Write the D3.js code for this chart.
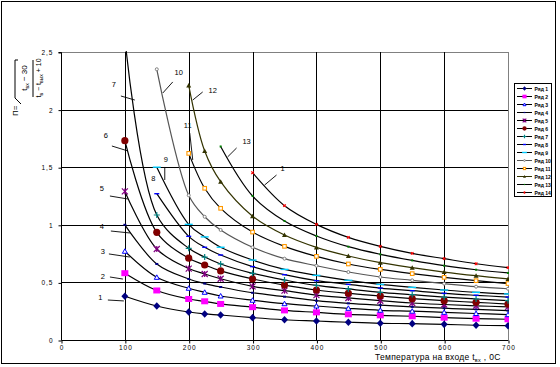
<!DOCTYPE html>
<html><head><meta charset="utf-8">
<script src="https://cdn.jsdelivr.net/npm/d3@7"></script>
<style>
body{margin:0;background:#fff}
svg{display:block}
text{font-family:"Liberation Sans",Arial,sans-serif;fill:#000}
</style>
</head><body>
<svg id="c" width="560" height="367"></svg>
<script>
// ---- data ----
const xValues = [100,150,200,225,250,300,350,400,450,500,550,600,650,700];
const series1  = [0.38,0.295,0.243,0.226,0.217,0.194,0.176,0.165,0.154,0.145,0.142,0.136,0.128,0.124];
const series2  = [0.58,0.43,0.356,0.336,0.313,0.285,0.257,0.24,0.223,0.214,0.206,0.194,0.185,0.18];
const series3  = [0.77,0.544,0.449,0.414,0.382,0.345,0.315,0.295,0.275,0.258,0.25,0.24,0.23,0.22];
const series4  = [1.0,0.66,0.53,0.49,0.46,0.41,0.376,0.341,0.318,0.302,0.288,0.276,0.265,0.255];
const series5  = [1.29,0.79,0.62,0.573,0.532,0.466,0.428,0.39,0.365,0.341,0.321,0.308,0.297,0.288];
const series6  = [1.73,0.935,0.71,0.651,0.60,0.53,0.477,0.434,0.405,0.382,0.359,0.341,0.327,0.312];
const series7  = [2.62,1.085,0.796,0.72,0.66,0.579,0.521,0.474,0.443,0.414,0.394,0.373,0.356,0.341];
const series8  = [null,1.27,0.9,0.805,0.738,0.637,0.567,0.515,0.483,0.451,0.428,0.405,0.388,0.373];
const series9  = [null,1.5,1.004,0.895,0.805,0.694,0.613,0.561,0.518,0.483,0.457,0.434,0.414,0.40];
const series10 = [null,2.35,1.256,1.07,0.955,0.805,0.706,0.645,0.59,0.547,0.518,0.489,0.463,0.445];
const series11 = [null,null,1.62,1.317,1.143,0.937,0.813,0.726,0.66,0.613,0.576,0.544,0.515,0.49];
const series12 = [null,null,2.21,1.64,1.374,1.075,0.911,0.804,0.729,0.671,0.628,0.59,0.558,0.53];
const series13 = [null,null,null,null,1.68,1.25,1.033,0.903,0.81,0.744,0.691,0.645,0.61,0.582];
const series14 = [null,null,null,null,null,1.452,1.166,1.004,0.891,0.813,0.752,0.706,0.662,0.628];
const seriesNames = ["Ряд 1","Ряд 2","Ряд 3","Ряд 4","Ряд 5","Ряд 6","Ряд 7","Ряд 8","Ряд 9","Ряд 10","Ряд 11","Ряд 12","Ряд 13","Ряд 14"];
const xTicks = [0,100,200,300,400,500,600,700];
const xTickLabels = ["0","100","200","300","400","500","600","700"];
const yTicks = [0,0.5,1,1.5,2,2.5];
const yTickLabels = ["0","0,5","1","1,5","2","2,5"];
// curve labels: text, label position (data units), leader line (data units)
const curveLabelText = ["1","2","3","4","5","6","7","8","9","10","11","12","13","1"];
const curveLabelPos = [[61.7,0.373],[65.6,0.547],[65.6,0.764],[64.1,0.981],[64.1,1.311],[70.3,1.771],[82.8,2.214],[144.5,1.406],[164.1,1.563],[184.4,2.326],[198.4,1.858],[237.5,2.170],[290.6,1.719],[346.9,1.493]];
const curveLeaders = [[73.4,0.347,98.4,0.339],[76.6,0.547,96.9,0.529],[75,0.747,107.8,0.72],[78.1,0.946,107.8,0.929],[76.6,1.25,104.7,1.224],[79.7,1.684,104.7,1.641],[93.8,2.118,115.6,2.083],null,[162.5,1.502,162.5,1.389],[175,2.24,159.4,2.144],[201.6,1.797,206.3,1.563],[221.9,2.153,206.3,2.083],[275,1.667,260.9,1.589],[337.5,1.432,318.8,1.345]];

const allSeries = [series1,series2,series3,series4,series5,series6,series7,series8,series9,series10,series11,series12,series13,series14];

// ---- styles ----
const styles = [
  {line:"#000", color:"#000080", m:"diamond"},
  {line:"#000", color:"#FF00FF", m:"square"},
  {line:"#000", color:"#0000FF", m:"triOpen"},
  {line:"#000", color:"#000080", m:"smallDash"},
  {line:"#000", color:"#800080", m:"star"},
  {line:"#000", color:"#800000", m:"circle"},
  {line:"#000", color:"#008080", m:"plus"},
  {line:"#000", color:"#0000FF", m:"dash"},
  {line:"#000", color:"#00CCFF", m:"longDash"},
  {line:"#555", color:"#808080", m:"circleOpen"},
  {line:"#000", color:"#FF9900", m:"squareOpen"},
  {line:"#333300", color:"#333300", m:"tri"},
  {line:"#000", color:"#008000", m:"smallSquare"},
  {line:"#000", color:"#FF0000", m:"smallX"}
];

const svg = d3.select("#c");
const L = 61, R = 508, T = 52, B = 340;
const x = d3.scaleLinear().domain([0,700]).range([L,R]);
const y = d3.scaleLinear().domain([0,2.5]).range([B,T]);

// outer border
svg.append("rect").attr("x",1.5).attr("y",1.5).attr("width",554).attr("height",362)
  .attr("fill","#fff").attr("stroke","#000").attr("stroke-width",1);

// gridlines
const g = svg.append("g");
yTicks.forEach(v=>{
  if(v===0) return;
  g.append("line").attr("x1",L).attr("x2",R).attr("y1",Math.round(y(v))+0.5).attr("y2",Math.round(y(v))+0.5)
   .attr("stroke", v===2.5 ? "#808080" : "#000").attr("stroke-width",1);
});
xTicks.forEach(v=>{
  if(v===0) return;
  g.append("line").attr("y1",T).attr("y2",B).attr("x1",Math.round(x(v))+0.5).attr("x2",Math.round(x(v))+0.5)
   .attr("stroke", v===700 ? "#808080" : "#000").attr("stroke-width",1);
});

// axes
const yAxis = d3.axisLeft(y).tickValues(yTicks).tickSize(3).tickPadding(5)
  .tickFormat((d,i)=>yTickLabels[i]);
const xAxis = d3.axisBottom(x).tickValues(xTicks).tickSize(3).tickPadding(2)
  .tickFormat((d,i)=>xTickLabels[i]);
const ya = svg.append("g").attr("transform",`translate(${L+0.5},0.5)`).call(yAxis);
const xa = svg.append("g").attr("transform",`translate(0.5,${B+0.5})`).call(xAxis);
[ya,xa].forEach(a=>{
  a.select(".domain").attr("stroke","#000");
  a.selectAll(".tick line").attr("stroke","#000");
  a.selectAll(".tick text").attr("font-size","6.5px").attr("letter-spacing","1px")
    .attr("font-family","'DejaVu Sans',sans-serif").attr("fill","#000");
});
ya.select(".domain").attr("d",`M-3,${T}H0V${B}`);
xa.select(".domain").attr("d",`M${L},0H${R}`);

// clip
svg.append("clipPath").attr("id","pc").append("rect").attr("x",L).attr("y",T-1).attr("width",R-L+1).attr("height",B-T+1);

const plot = svg.append("g").attr("clip-path","url(#pc)");

const lineGen = d3.line().defined(d=>d[1]!=null).x(d=>x(d[0])).y(d=>y(d[1])).curve(d3.curveCatmullRom.alpha(0.5));

function drawMarker(sel, type, color, s){
  s = s || 1;
  switch(type){
    case "diamond": sel.append("path").attr("d",`M0,${-3.8*s}L${3.5*s},0L0,${3.8*s}L${-3.5*s},0Z`).attr("fill",color); break;
    case "square": sel.append("rect").attr("x",-3.5*s).attr("y",-3*s).attr("width",7*s).attr("height",6*s).attr("fill",color); break;
    case "triOpen": sel.append("path").attr("d",`M0,${-2.5*s}L${2.5*s},${2*s}L${-2.5*s},${2*s}Z`).attr("fill","#fff").attr("stroke",color).attr("stroke-width",1); break;
    case "smallDash": sel.append("rect").attr("x",-1.5*s).attr("y",-1*s).attr("width",3*s).attr("height",2*s).attr("fill",color); break;
    case "star": sel.append("path").attr("d",`M${-3*s},${-3*s}L${3*s},${3*s}M${3*s},${-3*s}L${-3*s},${3*s}M0,${-3*s}L0,${3*s}`).attr("stroke",color).attr("stroke-width",1.2); break;
    case "circle": sel.append("circle").attr("r",3.6*s).attr("fill",color); break;
    case "plus": sel.append("path").attr("d",`M${-3*s},0L${3*s},0M0,${-3*s}L0,${3*s}`).attr("stroke",color).attr("stroke-width",1.2); break;
    case "dash": sel.append("path").attr("d",`M${-2.5*s},0L${2.5*s},0`).attr("stroke",color).attr("stroke-width",1.4); break;
    case "longDash": sel.append("path").attr("d",`M${-4*s},0L${4*s},0`).attr("stroke",color).attr("stroke-width",1.4); break;
    case "circleOpen": sel.append("circle").attr("r",1.5*s).attr("fill","#fff").attr("stroke",color).attr("stroke-width",1); break;
    case "squareOpen": sel.append("rect").attr("x",-1.8*s).attr("y",-1.8*s).attr("width",3.6*s).attr("height",3.6*s).attr("fill","#fff").attr("stroke",color).attr("stroke-width",1.1); break;
    case "tri": sel.append("path").attr("d",`M0,${-2.5*s}L${2.5*s},${2*s}L${-2.5*s},${2*s}Z`).attr("fill",color); break;
    case "smallSquare": sel.append("rect").attr("x",-1*s).attr("y",-1*s).attr("width",2*s).attr("height",2*s).attr("fill",color); break;
    case "smallX": sel.append("path").attr("d",`M${-1.3*s},${-1.3*s}L${1.3*s},${1.3*s}M${1.3*s},${-1.3*s}L${-1.3*s},${1.3*s}`).attr("stroke",color).attr("stroke-width",1.1); break;
  }
}

allSeries.forEach((vals,i)=>{
  const pts = xValues.map((xv,j)=>[xv, vals[j]]);
  plot.append("path").datum(pts).attr("d",lineGen).attr("fill","none")
    .attr("stroke",styles[i].line).attr("stroke-width",1.2);
});
allSeries.forEach((vals,i)=>{
  xValues.forEach((xv,j)=>{
    if(vals[j]==null) return;
    const m = plot.append("g").attr("transform",`translate(${x(xv)},${y(vals[j])})`);
    drawMarker(m, styles[i].m, styles[i].color, 1);
  });
});

// curve labels
curveLabelText.forEach((t,i)=>{
  const p = curveLabelPos[i];
  svg.append("text").attr("x",x(p[0])).attr("y",y(p[1])).attr("text-anchor","middle")
    .attr("dominant-baseline","central").attr("font-size","7.5px").attr("font-family","'DejaVu Sans',sans-serif").text(t);
  const ld = curveLeaders[i];
  if(ld){
    svg.append("line").attr("x1",x(ld[0])).attr("y1",y(ld[1])).attr("x2",x(ld[2])).attr("y2",y(ld[3]))
      .attr("stroke","#000").attr("stroke-width",0.9);
  }
});

// x axis title
const xt = svg.append("text").attr("x",375).attr("y",360).attr("font-size","8.5px").attr("letter-spacing","0.3px");
xt.append("tspan").text("Температура на входе t");
xt.append("tspan").attr("font-size","5.5px").attr("dy",1.5).text("вх");
xt.append("tspan").attr("dy",-1.5).text(" , 0С");

// y axis title (rotated formula)
const f = svg.append("g").attr("transform","translate(28,78) rotate(-90)");
f.append("text").attr("x",-38).attr("y",-10).attr("font-size","8px").text("П=");
f.append("path").attr("d","M-26,-7 L-20,-13 L18,-13 L18,-10").attr("fill","none").attr("stroke","#000").attr("stroke-width",1);
const num = f.append("text").attr("x",0).attr("y",-1).attr("text-anchor","middle").attr("font-size","8px");
num.append("tspan").text("t");
num.append("tspan").attr("font-size","5px").attr("dy",1.5).text("вх");
num.append("tspan").attr("dy",-1.5).text(" − 30");
f.append("line").attr("x1",-19).attr("x2",18).attr("y1",5).attr("y2",5).attr("stroke","#000").attr("stroke-width",1);
const den = f.append("text").attr("x",0).attr("y",13).attr("text-anchor","middle").attr("font-size","7px");
den.append("tspan").text("t");
den.append("tspan").attr("font-size","5px").attr("dy",1.5).text("в");
den.append("tspan").attr("dy",-1.5).text(" − t");
den.append("tspan").attr("font-size","5px").attr("dy",1.5).text("вых");
den.append("tspan").attr("dy",-1.5).text(" + 10");

// legend
const lg = svg.append("g");
lg.append("rect").attr("x",514.5).attr("y",83.5).attr("width",37).attr("height",113)
  .attr("fill","#fff").attr("stroke","#000").attr("stroke-width",1);
seriesNames.forEach((nm,i)=>{
  const yy = 88.5 + i*8;
  lg.append("line").attr("x1",517).attr("x2",532).attr("y1",yy).attr("y2",yy).attr("stroke",styles[i].line).attr("stroke-width",1);
  const m = lg.append("g").attr("transform",`translate(524.5,${yy})`);
  drawMarker(m, styles[i].m, styles[i].color, 0.6);
  lg.append("text").attr("x",534.5).attr("y",yy).attr("dominant-baseline","central")
    .attr("font-size","5px").attr("font-weight","bold").text(nm);
});
</script>
</body></html>
